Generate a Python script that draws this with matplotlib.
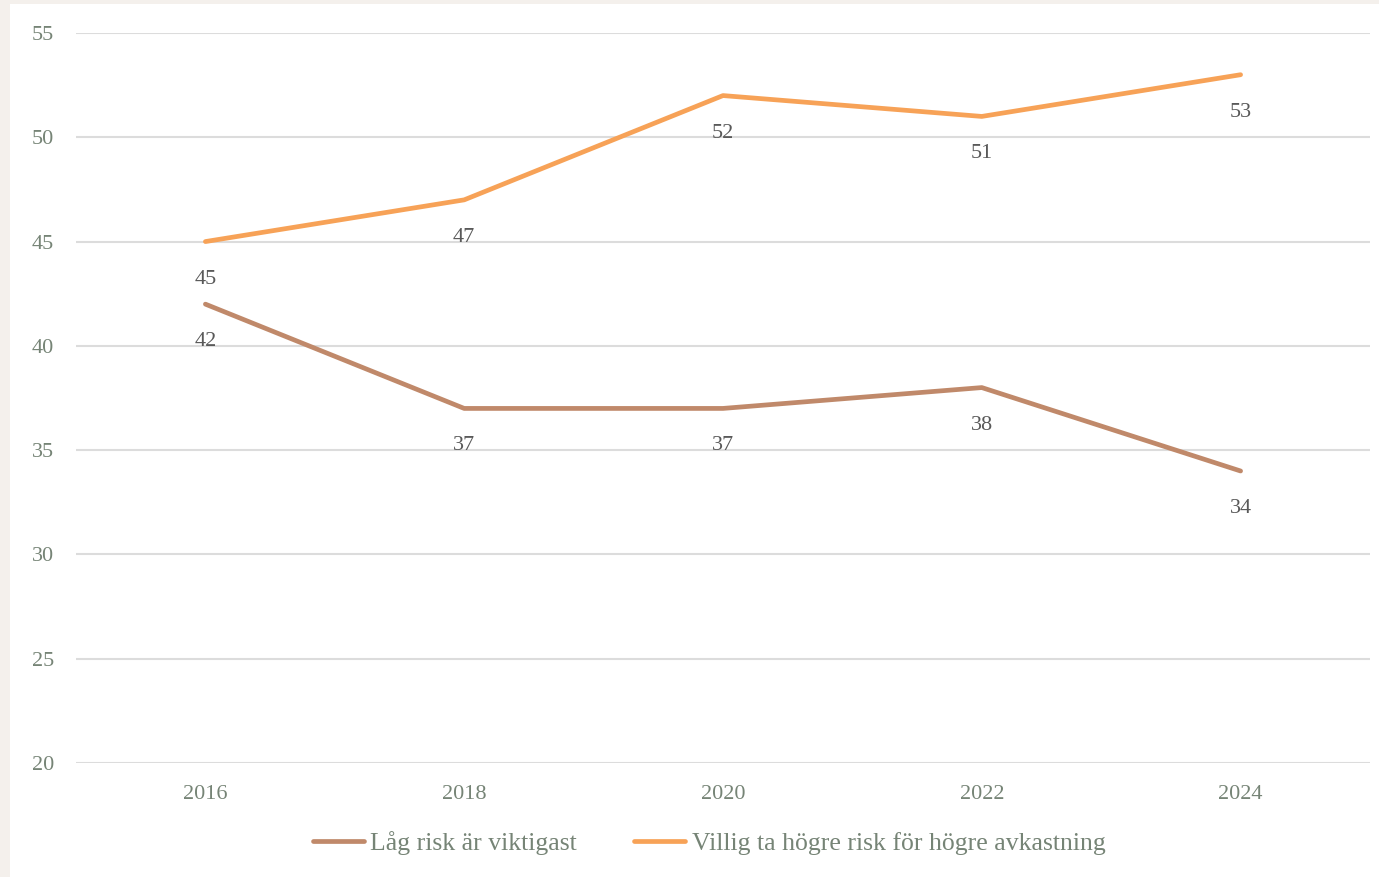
import matplotlib.pyplot as plt
from matplotlib.patches import Rectangle

# Chart data
years = ["2016", "2018", "2020", "2022", "2024"]
low_risk = [42, 37, 37, 38, 34]
higher_risk = [45, 47, 52, 51, 53]
series_names = ["Låg risk är viktigast", "Villig ta högre risk för högre avkastning"]
y_ticks = [20, 25, 30, 35, 40, 45, 50, 55]

plt.rcParams["font.family"] = ["Liberation Serif", "DejaVu Serif"]

fig = plt.figure(figsize=(13.79, 8.77), dpi=100, facecolor="#f4f0ec")
# white panel with a thin beige frame on the left and top
fig.add_artist(Rectangle((10 / 1379, 0), 1 - 10 / 1379, 1 - 4 / 877,
                         transform=fig.transFigure, facecolor="white",
                         edgecolor="none", zorder=-1))

ax = fig.add_axes([76 / 1379, 114 / 877, 1294 / 1379, 730 / 877])
ax.set_facecolor("none")
ax.set_zorder(1)

x = list(range(len(years)))
ax.plot(x, low_risk, color="#c0896a", linewidth=3.4, solid_capstyle="round",
        label=series_names[0], zorder=3)
ax.plot(x, higher_risk, color="#f7a257", linewidth=3.4, solid_capstyle="round",
        label=series_names[1], zorder=3)

for xi, v in zip(x, low_risk):
    ax.annotate(str(v), (xi, v), xytext=(0, -27), textcoords="offset points",
                ha="center", va="center", fontsize=16, color="#595959")
for xi, v in zip(x, higher_risk):
    ax.annotate(str(v), (xi, v), xytext=(0, -27), textcoords="offset points",
                ha="center", va="center", fontsize=16, color="#595959")

ax.set_xlim(-0.5, len(years) - 0.5)
ax.set_ylim(20, 55)
ax.set_xticks(x)
ax.set_xticklabels(years)
ax.set_yticks(y_ticks)
ax.grid(axis="y", color="#dcdcdc", linewidth=1.5)
ax.set_axisbelow(True)
for s in ax.spines.values():
    s.set_visible(False)
ax.tick_params(axis="both", length=0, labelsize=16, labelcolor="#768476")
ax.tick_params(axis="y", pad=16)
ax.tick_params(axis="x", pad=16)

fig.legend(loc="center", bbox_to_anchor=(709 / 1379, 34 / 877), ncol=2, frameon=False,
           fontsize=18.5, labelcolor="#768476", handlelength=2.0, handletextpad=0.25,
           columnspacing=2.2)

fig.savefig("out.png", dpi=100, facecolor=fig.get_facecolor())
